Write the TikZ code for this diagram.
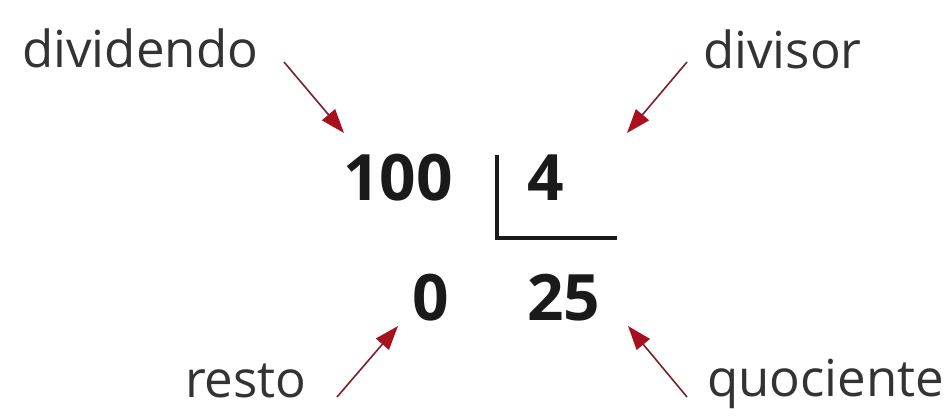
\documentclass[tikz,border=0pt]{standalone}
\usepackage{fontspec}
\setmainfont{Open Sans}
\usetikzlibrary{arrows.meta}
\definecolor{txt}{HTML}{333333}
\definecolor{num}{HTML}{1A1A1A}
\definecolor{arr}{HTML}{A8101E}
\definecolor{shaft}{HTML}{7A2028}
\tikzset{
  lbl/.style={inner sep=0pt, text=txt, font=\fontsize{51}{60}\selectfont},
  numb/.style={inner sep=0pt, text=num, font=\fontsize{64}{72}\selectfont\bfseries},
  pointer/.style={draw=shaft, line width=1.6pt, -{Triangle[length=24pt,width=17pt,fill=arr,color=arr]}},
  bar/.style={draw=num, line width=3.5pt}
}
\begin{document}
\begin{tikzpicture}[x=1pt,y=-1pt]
\useasboundingbox (0,0) rectangle (945,416);
% labels
\node[lbl, anchor=base west] (dvd) at (22,67) {dividendo};
\node[lbl, anchor=base west] (dvs) at (703,68) {divisor};
\node[lbl, anchor=base west] (rst) at (185,397) {resto};
\node[lbl, anchor=base west] (quo) at (707,396) {quociente};
% numbers
\node[numb, anchor=base west] (n100) at (343,200) {100};
\node[numb, anchor=base west] (n4) at (527,200) {4};
\node[numb, anchor=base west] (n0) at (412,320) {0};
\node[numb, anchor=base west] (n25) at (527,320) {25};
% division bracket
\coordinate (bt) at (497,155);
\coordinate (bc) at (497,238);
\coordinate (br) at (617,238);
\draw[bar] (bt) -- (bc) -- (br);
% arrow endpoints
\coordinate (a1s) at (284,62);  \coordinate (a1e) at (344,133);
\coordinate (a2s) at (687,62);  \coordinate (a2e) at (627,133);
\coordinate (a3s) at (337,397); \coordinate (a3e) at (398,326);
\coordinate (a4s) at (687,397); \coordinate (a4e) at (628,326);
\draw[pointer] (a1s) -- (a1e);
\draw[pointer] (a2s) -- (a2e);
\draw[pointer] (a3s) -- (a3e);
\draw[pointer] (a4s) -- (a4e);
\end{tikzpicture}
\end{document}
